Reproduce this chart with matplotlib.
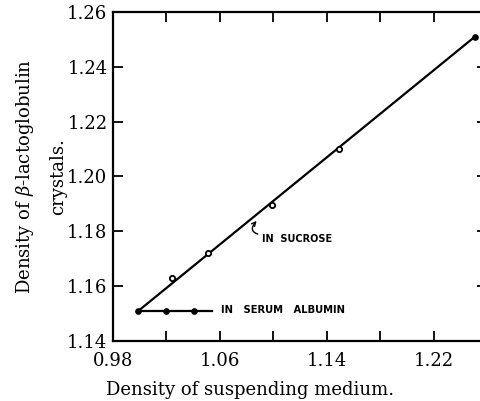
import matplotlib
matplotlib.use("Agg")
import matplotlib.pyplot as plt
import numpy as np

# density of suspending medium vs density of beta-lactoglobulin crystals
sucrose_x = [0.999, 1.0243, 1.0508, 1.0987, 1.149, 1.2507]
sucrose_y = [1.151, 1.163, 1.1722, 1.1895, 1.2101, 1.2509]
sucrose_fit_x = [0.999, 1.2507]
sucrose_fit_y = [1.151, 1.2509]

albumin_x = [0.999, 1.020, 1.0405]
albumin_y = [1.151, 1.151, 1.151]
albumin_line_x = [0.999, 1.054]
albumin_line_y = [1.151, 1.151]

x_ticks = [0.98, 1.02, 1.06, 1.10, 1.14, 1.18, 1.22, 1.26]
x_ticklabels = ["0.98", "", "1.06", "", "1.14", "", "1.22", ""]
y_ticks = [1.14, 1.16, 1.18, 1.20, 1.22, 1.24, 1.26]
y_ticklabels = ["1.14", "1.16", "1.18", "1.20", "1.22", "1.24", "1.26"]

plt.rcParams['font.family'] = 'DejaVu Serif'
plt.rcParams['mathtext.fontset'] = 'dejavuserif'

W, H = 480, 401
fig = plt.figure(figsize=(4.8, 4.01), dpi=100)
ax = fig.add_axes([113 / W, (H - 341) / H, (487 - 113) / W, (341 - 12) / H])

ax.plot(sucrose_fit_x, sucrose_fit_y, color='black', lw=1.6)
ax.plot(albumin_line_x, albumin_line_y, color='black', lw=1.6)
ax.plot(sucrose_x[1:-1], sucrose_y[1:-1], 'o', ms=3.8, mfc='white', mec='black', mew=1.3)
ax.plot([sucrose_x[-1]], [sucrose_y[-1]], 'o', ms=3.8, color='black')
ax.plot(albumin_x, albumin_y, 'o', ms=3.8, color='black')

ax.annotate("IN  SUCROSE", xy=(1.0875, 1.1838), xytext=(1.0915, 1.1772),
            fontsize=7, fontweight='bold', family='DejaVu Sans', va='center',
            arrowprops=dict(arrowstyle='->', color='black', lw=1,
                            relpos=(0, 0.9),
                            connectionstyle='arc3,rad=-0.9', shrinkA=1, shrinkB=0))
ax.text(1.061, 1.1513, "IN   SERUM   ALBUMIN", fontsize=7.2, fontweight='bold',
        family='DejaVu Sans', va='center')

ax.set_xlim(0.98, 1.26)
ax.set_ylim(1.14, 1.26)
ax.set_xticks(x_ticks)
ax.set_xticklabels(x_ticklabels)
ax.set_yticks(y_ticks)
ax.set_yticklabels(y_ticklabels)
ax.tick_params(direction='in', length=7, width=1.3, labelsize=13,
               top=True, right=True)
ax.tick_params(axis='x', pad=8)
ax.tick_params(axis='y', pad=4)
for s in ax.spines.values():
    s.set_linewidth(1.6)

ax.set_ylabel("Density of $\\beta$-lactoglobulin\ncrystals.", fontsize=13,
              linespacing=1.9, labelpad=0)
fig.text(250 / W, 1 - 390 / H, "Density of suspending medium.", fontsize=13,
         ha='center', va='center')

fig.savefig("out.png", dpi=100)
